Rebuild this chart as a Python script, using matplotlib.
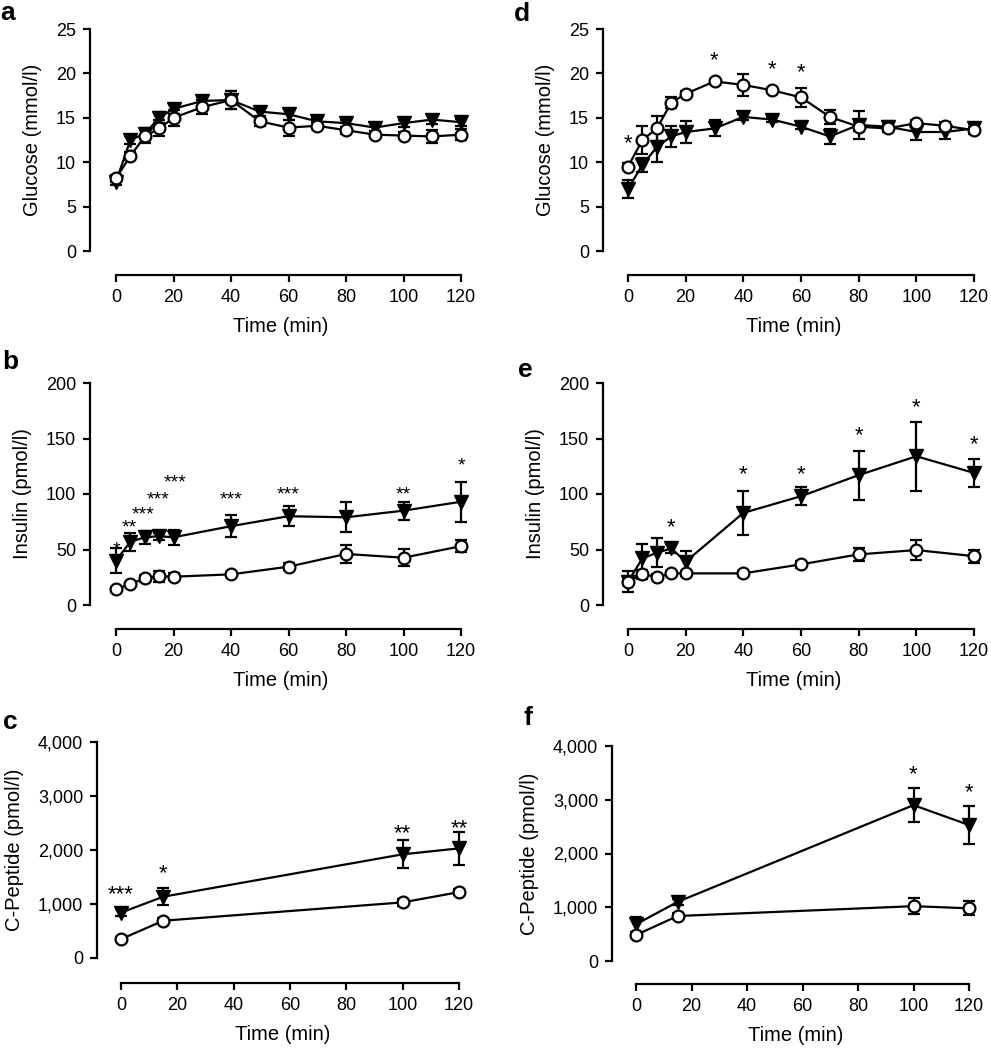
import numpy as np
import matplotlib
matplotlib.use('Agg')
import matplotlib.pyplot as plt
import matplotlib.transforms as mtrans

plt.rcParams['font.family'] = ['Liberation Sans', 'DejaVu Sans']

# ---- data ----
t_glu = [0, 5, 10, 15, 20, 30, 40, 50, 60, 70, 80, 90, 100, 110, 120]
t_ins = [0, 5, 10, 15, 20, 40, 60, 80, 100, 120]
t_cp = [0, 15, 100, 120]

# a: glucose, group 1
a_circ = [8.2, 10.7, 12.9, 13.8, 15.0, 16.2, 17.0, 14.6, 13.9, 14.1, 13.6, 13.1, 13.0, 12.9, 13.1]
a_circ_err = [0.4, 0.5, 0.7, 0.9, 0.9, 0.8, 1.0, 0.5, 0.9, 0.4, 0.4, 0.4, 0.4, 0.7, 0.6]
a_tri = [7.8, 12.5, 13.2, 15.0, 16.0, 16.9, 17.0, 15.7, 15.4, 14.6, 14.4, 13.9, 14.4, 14.8, 14.5]
a_tri_err = [0.4, 0.5, 0.6, 0.6, 0.6, 0.6, 1.0, 0.5, 0.6, 0.4, 0.4, 0.4, 0.4, 0.5, 0.4]

# d: glucose, group 2
d_circ = [9.5, 12.5, 13.8, 16.7, 17.7, 19.1, 18.7, 18.1, 17.3, 15.1, 14.0, 13.8, 14.4, 14.1, 13.6]
d_circ_err = [0.4, 1.6, 1.4, 0.6, 0.3, 0.3, 1.2, 0.3, 1.1, 0.8, 0.5, 0.4, 0.4, 0.4, 0.4]
d_tri = [7.0, 9.7, 11.7, 12.9, 13.4, 13.8, 15.1, 14.8, 14.0, 12.9, 14.2, 14.0, 13.4, 13.4, 13.8]
d_tri_err = [1.0, 0.8, 1.7, 1.2, 1.2, 0.9, 0.3, 0.3, 0.3, 0.8, 1.6, 0.6, 0.9, 0.8, 0.5]
d_star_x = [0, 30, 50, 60]
d_star_y = [12.9, 22.3, 21.3, 20.9]
d_star_lab = ['*', '*', '*', '*']

# b: insulin, group 1
b_circ = [14, 19, 24, 26, 25.5, 27.6, 34.5, 46, 42.6, 53]
b_circ_err = [2, 2, 3, 5, 3, 2, 3, 8.5, 7.5, 5.5]
b_tri = [40, 57, 61, 62, 61, 71, 80, 79, 85, 93]
b_tri_err = [11, 8, 6, 3, 7, 10, 9, 13.5, 8, 18]
b_star_x = [0, 4.5, 9.5, 14.8, 20.5, 40, 60, 100, 120]
b_star_y = [55.5, 75, 87, 101, 115.6, 101, 105, 105, 131]
b_star_lab = ['*', '**', '***', '***', '***', '***', '***', '**', '*']

# e: insulin, group 2
e_circ = [21, 27.6, 25.5, 28.5, 28.5, 28.5, 36.6, 45.6, 49.5, 44]
e_circ_err = [3, 4, 2, 2, 2, 2, 3, 6, 9, 6]
e_tri = [21, 42, 47, 51, 39, 83, 98, 117, 134, 119]
e_tri_err = [9.5, 13, 13, 4, 10, 20, 8, 22, 31, 12.5]
e_star_x = [15, 40, 60, 80, 100, 120]
e_star_y = [76.6, 124, 124, 159, 184.7, 151.6]
e_star_lab = ['*'] * 6

# c: C-peptide, group 1
c_circ = [350, 690, 1030, 1220]
c_circ_err = [40, 50, 60, 60]
c_tri = [840, 1135, 1920, 2030]
c_tri_err = [60, 160, 260, 310]
c_star_x = [0, 15, 100, 120]
c_star_y = [1320, 1710, 2444, 2537]
c_star_lab = ['***', '*', '**', '**']

# f: C-peptide, group 2
f_circ = [484, 837, 1020, 980]
f_circ_err = [60, 50, 150, 130]
f_tri = [683, 1100, 2900, 2530]
f_tri_err = [140, 60, 310, 360]
f_star_x = [100, 120]
f_star_y = [3603, 3274]
f_star_lab = ['*', '*']

W, H = 991, 1050
fig = plt.figure(figsize=(W / 100, H / 100), dpi=100)


def make_ax(lx, x0, x120, ytop, ybot, spine_y, ymax):
    sc = (x120 - x0) / 120.0
    right = x120 + 10
    ax = fig.add_axes([lx / W, 1 - ybot / H, (right - lx) / W, (ybot - ytop) / H])
    ax.set_xlim(-(x0 - lx) / sc, 120 + 10 / sc)
    ax.set_ylim(0, ymax)
    for s in ['top', 'right']:
        ax.spines[s].set_visible(False)
    ax.spines['bottom'].set_position(('outward', (spine_y - ybot) * 0.72))
    ax.spines['bottom'].set_bounds(0, 120)
    ax.spines['left'].set_bounds(0, ymax)
    for s in ['left', 'bottom']:
        ax.spines[s].set_linewidth(1.6)
    ax.tick_params(width=1.6, length=5, labelsize=13, direction='out', pad=5)
    ax.set_xticks([0, 20, 40, 60, 80, 100, 120])
    ax.set_xlabel('Time (min)', fontsize=14.5, labelpad=8)
    return ax


def draw(ax, t, circ, circ_err, tri, tri_err):
    ax.errorbar(t, tri, yerr=tri_err, fmt='-', marker='v', color='black',
                mfc='black', mec='black', ms=10, lw=1.6, elinewidth=1.6,
                capsize=4.5, capthick=1.6, clip_on=False, zorder=3)
    ax.errorbar(t, circ, yerr=circ_err, fmt='-', marker='o', color='black',
                mfc='white', mec='black', mew=1.6, ms=8.5, lw=1.6,
                elinewidth=1.6, capsize=4.5, capthick=1.6, clip_on=False, zorder=4)


def stars(ax, xs, ys, labs, size=16):
    off = mtrans.ScaledTranslation(0, -size * 0.34 / 72, fig.dpi_scale_trans)
    for x, y, l in zip(xs, ys, labs):
        ax.text(x, y, l, ha='center', va='center', fontsize=size,
                transform=ax.transData + off)


# a
ax = make_ax(90, 116, 461, 29, 251, 275, 25)
draw(ax, t_glu, a_circ, a_circ_err, a_tri, a_tri_err)
ax.set_yticks([0, 5, 10, 15, 20, 25])
ax.set_ylabel('Glucose (mmol/l)', fontsize=14.5, labelpad=10)

# d
ax = make_ax(603, 628, 974, 29, 251, 275, 25)
draw(ax, t_glu, d_circ, d_circ_err, d_tri, d_tri_err)
ax.set_yticks([0, 5, 10, 15, 20, 25])
ax.set_ylabel('Glucose (mmol/l)', fontsize=14.5, labelpad=10)
stars(ax, d_star_x, d_star_y, d_star_lab)

# b
ax = make_ax(90, 116, 461, 383, 605, 629, 200)
draw(ax, t_ins, b_circ, b_circ_err, b_tri, b_tri_err)
ax.set_yticks([0, 50, 100, 150, 200])
ax.set_ylabel('Insulin (pmol/l)', fontsize=14.5, labelpad=10)
stars(ax, b_star_x, b_star_y, b_star_lab, size=14)

# e
ax = make_ax(603, 628, 974, 383, 605, 629, 200)
draw(ax, t_ins, e_circ, e_circ_err, e_tri, e_tri_err)
ax.set_yticks([0, 50, 100, 150, 200])
ax.set_ylabel('Insulin (pmol/l)', fontsize=14.5, labelpad=10)
stars(ax, e_star_x, e_star_y, e_star_lab)

# c
ax = make_ax(97, 121, 459, 742, 958, 983, 4000)
draw(ax, t_cp, c_circ, c_circ_err, c_tri, c_tri_err)
ax.set_yticks([0, 1000, 2000, 3000, 4000])
ax.set_yticklabels(['0', '1,000', '2,000', '3,000', '4,000'])
ax.set_ylabel('C-Peptide (pmol/l)', fontsize=14.5, labelpad=10)
stars(ax, c_star_x, c_star_y, c_star_lab)

# f
ax = make_ax(612, 636, 969, 746, 961, 984, 4000)
draw(ax, t_cp, f_circ, f_circ_err, f_tri, f_tri_err)
ax.set_yticks([0, 1000, 2000, 3000, 4000])
ax.set_yticklabels(['0', '1,000', '2,000', '3,000', '4,000'])
ax.set_ylabel('C-Peptide (pmol/l)', fontsize=14.5, labelpad=10)
stars(ax, f_star_x, f_star_y, f_star_lab)

# panel letters
for lab, x, y in [('a', 8, 13), ('d', 522, 14), ('b', 10, 362),
                  ('e', 525, 370), ('c', 10, 722), ('f', 528, 718)]:
    fig.text(x / W, 1 - y / H, lab, fontsize=19, fontweight='bold',
             ha='center', va='center')

fig.savefig('out.png', dpi=100)
